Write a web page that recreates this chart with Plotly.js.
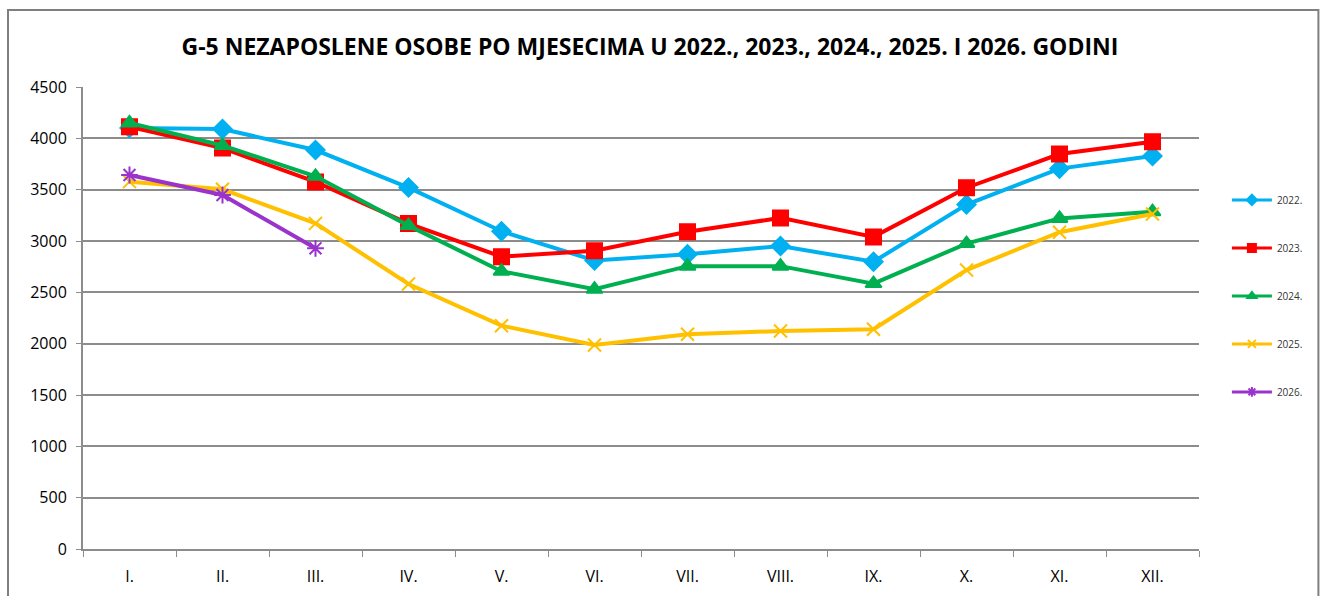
<!DOCTYPE html>
<html>
<head>
<meta charset="utf-8">
<script src="https://cdn.plot.ly/plotly-3.0.1.min.js"></script>
<style>html,body{margin:0;padding:0;background:#fff;}#chart{width:1321px;height:596px;}</style>
</head>
<body>
<div id="chart"></div>
<script>
const months = ["I.", "II.", "III.", "IV.", "V.", "VI.", "VII.", "VIII.", "IX.", "X.", "XI.", "XII."];
const y2022 = [4100, 4090, 3886, 3520, 3095, 2810, 2870, 2951, 2798, 3355, 3705, 3828];
const y2023 = [4112, 3905, 3575, 3170, 2847, 2906, 3090, 3225, 3040, 3519, 3847, 3967];
const y2024 = [4150, 3930, 3630, 3150, 2705, 2530, 2755, 2755, 2585, 2975, 3220, 3285];
const y2025 = [3578, 3504, 3172, 2581, 2175, 1987, 2091, 2123, 2140, 2717, 3085, 3263];
const y2026 = [3643, 3448, 2929];
const seriesNames = ["2022.", "2023.", "2024.", "2025.", "2026."];

const colors = ["#00B0F0", "#FF0000", "#00B050", "#FFC000", "#9933CC"];
const symbols = ["diamond", "square", "triangle-up", "x-thin-open", "asterisk-open"];
const sizes = [14, 15, 14, 13, 14];
const legendSizes = [8, 8, 8, 8, 8];
const data = [y2022, y2023, y2024, y2025, y2026];

const traces = data.map((vals, i) => ({
  type: "scatter",
  mode: "lines+markers",
  name: seriesNames[i],
  showlegend: false,
  x: months.slice(0, vals.length),
  y: vals,
  line: {color: colors[i], width: 4},
  marker: {symbol: symbols[i], size: sizes[i], color: colors[i], line: {color: colors[i], width: 2}}
}));

// legend-only entries with smaller symbols, as in the original legend
const legendTraces = seriesNames.map((n, i) => ({
  type: "scatter",
  mode: "lines+markers",
  name: n,
  legendgroup: "g" + i,
  x: [null], y: [null],
  line: {color: colors[i], width: 3},
  marker: {symbol: symbols[i], size: legendSizes[i], color: colors[i], line: {color: colors[i], width: 2}},
  hoverinfo: "skip"
}));

const layout = {
  width: 1321, height: 596,
  margin: {l: 83, r: 122, t: 87, b: 47},
  paper_bgcolor: "#fff", plot_bgcolor: "#fff",
  font: {family: "Open Sans, Arial, sans-serif", color: "#000"},
  title: {text: "<b>G-5 NEZAPOSLENE OSOBE PO MJESECIMA U 2022., 2023., 2024., 2025. I 2026. GODINI</b>",
    font: {size: 23, color: "#000"}, x: 0.492, xanchor: "center", y: 0.922, yanchor: "middle"},
  xaxis: {type: "category", range: [-0.5, 11.5], showgrid: false, showline: true, linecolor: "#8c8c8c", linewidth: 2,
    ticks: "outside", tickson: "boundaries", ticklen: 6, tickcolor: "#8c8c8c", tickwidth: 1,
    tickfont: {size: 16}, ticklabelstandoff: 12, fixedrange: true},
  yaxis: {range: [0, 4500], dtick: 500, showgrid: true, gridcolor: "#8c8c8c", gridwidth: 2,
    showline: true, linecolor: "#8c8c8c", linewidth: 2, ticks: "outside", ticklen: 5, tickcolor: "#8c8c8c",
    tickfont: {size: 16}, ticklabelstandoff: 6, zeroline: false, fixedrange: true},
  legend: {x: 1.025, xanchor: "left", y: 0.787, yanchor: "top", font: {size: 10, color: "#333"},
    tracegroupgap: 29, itemwidth: 40, bgcolor: "rgba(0,0,0,0)"},
  shapes: [{type: "rect", xref: "paper", yref: "paper", x0: -0.0672, x1: 1.107, y0: -0.2, y1: 1.1667,
    line: {color: "#7f7f7f", width: 2}, fillcolor: "rgba(0,0,0,0)", layer: "below"}],
  showlegend: true
};

Plotly.newPlot("chart", traces.concat(legendTraces), layout, {displayModeBar: false, staticPlot: true});
</script>
</body>
</html>
